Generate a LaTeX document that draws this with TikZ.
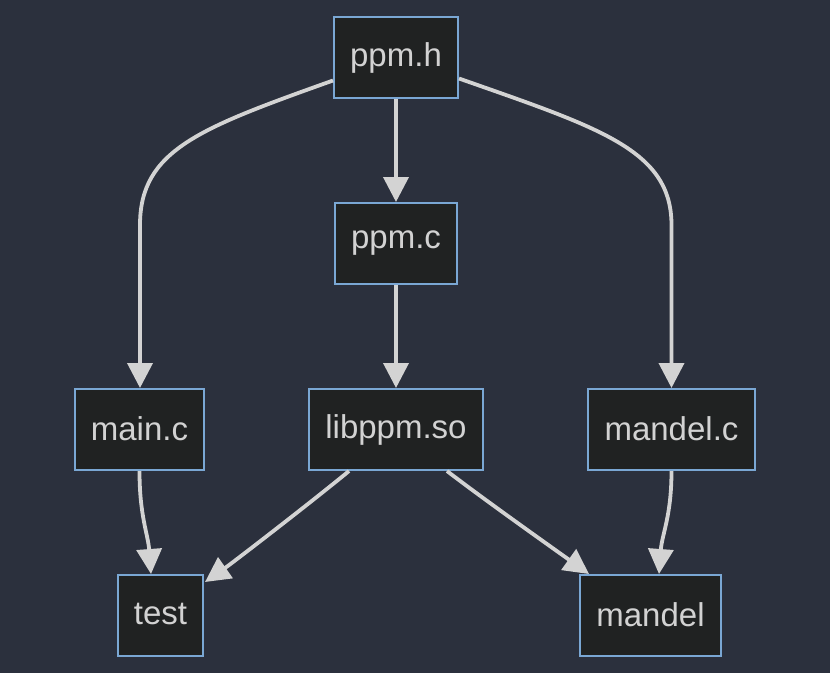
\documentclass[tikz,border=0pt]{standalone}
\usepackage{fontspec}
\setmainfont{Liberation Sans}
\usetikzlibrary{arrows.meta}
\definecolor{bgc}{HTML}{2B303D}
\definecolor{boxfill}{HTML}{202222}
\definecolor{boxline}{HTML}{7AA7D4}
\definecolor{txt}{HTML}{D2D2D2}
\definecolor{edgec}{HTML}{D3D3D3}
\newcommand{\boxtxt}[1]{\raisebox{2.5pt}{#1}}
\tikzset{
  box/.style={draw=boxline, line width=2pt, fill=boxfill, text=txt, inner sep=0pt,
    font=\fontsize{33}{39}\selectfont, anchor=center},
  edge/.style={draw=edgec, line width=3.8pt, -{Triangle[length=25pt,width=25pt]}}
}
\begin{document}
\begin{tikzpicture}[x=1pt,y=-1pt]
\fill[bgc] (0,0) rectangle (830,673);
\useasboundingbox (0,0) rectangle (830,673);
\node[box, minimum width=124pt, minimum height=81pt] (ppmh) at (396,57.5) {\boxtxt{ppm.h}};
\node[box, minimum width=122pt, minimum height=81pt] (ppmc) at (396,243.5) {\boxtxt{ppm.c}};
\node[box, minimum width=129pt, minimum height=81pt] (mainc) at (139.5,429.5) {\boxtxt{main.c}};
\node[box, minimum width=174pt, minimum height=81pt] (libppm) at (396,429.5) {\boxtxt{libppm.so}};
\node[box, minimum width=167pt, minimum height=81pt] (mandelc) at (671.5,429.5) {\boxtxt{mandel.c}};
\node[box, minimum width=85pt, minimum height=81pt] (test) at (160.5,615.5) {\boxtxt{test}};
\node[box, minimum width=141pt, minimum height=81pt] (mandel) at (650.5,615.5) {\boxtxt{mandel}};

\draw[edge] ([yshift=-23pt]ppmh.west) .. controls (200,128) and (140,150) .. (140,225) -- ([xshift=0.5pt]mainc.north);
\draw[edge] (ppmh) -- (ppmc);
\draw[edge] ([yshift=-21pt]ppmh.east) .. controls (600,128) and (671.5,150) .. (671.5,225) -- (mandelc.north);
\draw[edge] (ppmc) -- (libppm);
\draw[edge] (mainc.south) .. controls +(0,45) and +(-3,-40) .. ([xshift=-9.5pt]test.north);
\draw[edge] ([xshift=-47pt]libppm.south) .. controls +(-30,25) and +(30,-21) .. ([xshift=1pt,yshift=-8pt]test.north east);
\draw[edge] ([xshift=51pt]libppm.south) .. controls +(35,27) and +(-35,-25) .. ([xshift=10pt]mandel.north west);
\draw[edge] (mandelc.south) .. controls +(0,45) and +(3,-40) .. ([xshift=8.5pt]mandel.north);
\end{tikzpicture}
\end{document}
